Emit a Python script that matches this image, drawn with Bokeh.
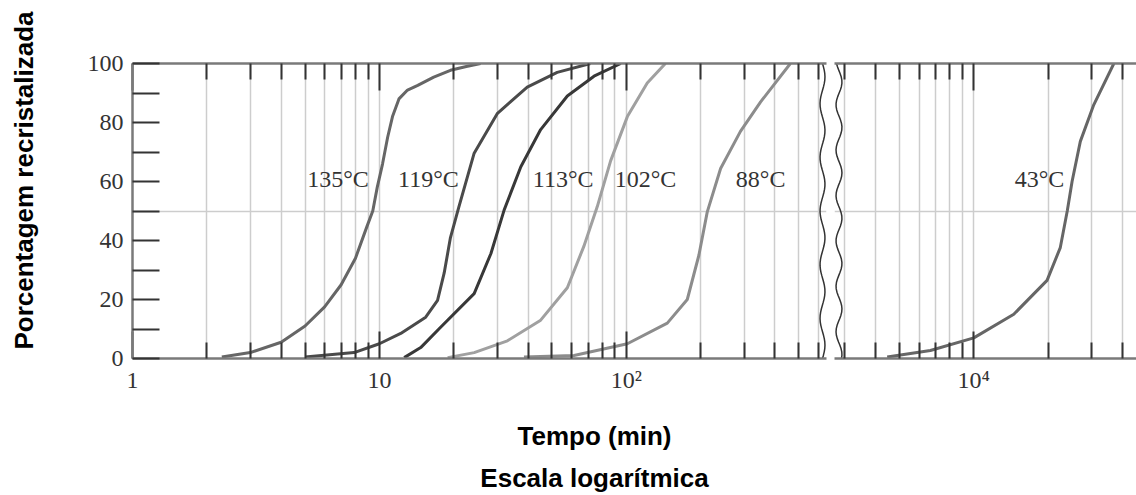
import numpy as np
from bokeh.plotting import figure
from bokeh.models import FixedTicker, LogAxis, ColumnDataSource, Range1d
from bokeh.layouts import row, column
from bokeh.core.properties import value
from bokeh.embed import file_html
from bokeh.resources import INLINE

# ---------------- data ----------------
t135 = [2.3, 3.0, 4.0, 5.0, 6.0, 7.0, 8.0, 8.9, 9.4, 9.8, 10.3, 10.8, 11.3, 12.0, 13.0,
        14.3, 16.6, 19.4, 22.5, 25.7]
p135 = [0.5, 2, 5.5, 11, 17.5, 25, 34, 44.7, 50, 58, 66, 75, 82, 88, 91,
        92.6, 95.4, 97.7, 99, 100]

t119 = [5.0, 7.9, 10.0, 12.2, 15.4, 17.2, 18.3, 19.4, 21.0, 24.2, 30.0, 39.7, 52.5, 71.6]
p119 = [0.5, 2, 5, 8.5, 14, 19.7, 29, 41, 51.5, 69.6, 83, 92, 97, 100]

t113 = [12.6, 14.7, 17.7, 24.2, 28.3, 32.0, 37.4, 45.0, 57.7, 74.0, 95.0]
p113 = [0.3, 3.7, 10.6, 22, 35.6, 50.3, 65, 77.6, 89, 95.7, 100]

t102 = [18.9, 24.2, 33.0, 45.0, 57.7, 67.3, 76.3, 86.4, 101, 121.6, 144]
p102 = [0.3, 2, 6, 13, 24, 38, 51.5, 67, 82, 93.4, 100]

t88 = [38.5, 61.4, 101, 146.6, 176.6, 196.8, 212.8, 241, 290, 350, 462]
p88 = [0.5, 1, 5, 12, 20, 35, 49.7, 64.4, 77, 87, 100]

t43 = [4460, 6670, 10000, 14520, 19800, 22400, 23900, 25000, 27000, 30600, 36900]
p43 = [0.5, 2.7, 7, 15, 26.5, 37.6, 50, 60, 73.6, 86, 100]

curve_labels_left = ["135°C", "119°C", "113°C", "102°C", "88°C"]
curve_label_x_left = [6.8, 15.8, 55.5, 119.7, 350]
curve_labels_right = ["43°C"]
curve_label_x_right = [18450]
curve_label_y = 61

left_major = [1, 10, 100]
left_minor = [2, 3, 4, 5, 6, 7, 8, 9, 20, 30, 40, 50, 60, 70, 80, 90, 200, 300, 400, 500, 600]
right_major = [10000]
right_minor = [3000, 4000, 5000, 6000, 7000, 8000, 9000, 20000, 30000, 40000]
y_ticks = [0, 10, 20, 30, 40, 50, 60, 70, 80, 90, 100]
x_tick_labels = {1: "1", 10: "10", 100: "10²", 10000: "10⁴"}

y_title = "Porcentagem recristalizada"
x_titles = ["Tempo (min)", "Escala logarítmica"]

# ---------------- styles ----------------
SERIF = "Liberation Serif"
SANS = "Liberation Sans"
TXT = "#333333"
FRAME = "#7a7a7a"
TICK = "#333333"
GRID = "#cdcdcd"

TOTAL_W, TOTAL_H = 1136, 495
YT_W = 45              # width of the y-title strip
PLOT_H = 405           # height of the two panels
XT_H = TOTAL_H - PLOT_H
W1 = 830 - YT_W
W2 = TOTAL_W - 830


def style_axis(ax, major, minor, labels):
    ax.ticker = FixedTicker(ticks=major, minor_ticks=minor)
    ax.major_tick_in = 27
    ax.major_tick_out = 0
    ax.minor_tick_in = 16
    ax.minor_tick_out = 0
    ax.major_tick_line_color = TICK
    ax.major_tick_line_width = 2
    ax.minor_tick_line_color = TICK
    ax.minor_tick_line_width = 2
    ax.axis_line_color = FRAME
    ax.axis_line_width = 2.5
    ax.major_label_overrides = labels
    ax.major_label_text_font = SERIF
    ax.major_label_text_font_size = "24px"
    ax.major_label_text_color = TXT
    ax.major_label_standoff = 8


def make_fig(width, xr, border_left, border_right, y_axis):
    p = figure(width=width, height=PLOT_H, x_axis_type="log",
               x_range=Range1d(*xr), y_range=Range1d(0, 100),
               output_backend="svg", toolbar_location=None,
               y_axis_location="left" if y_axis else None,
               min_border_left=border_left, min_border_right=border_right,
               min_border_top=63, min_border_bottom=PLOT_H - 358)
    p.outline_line_color = None
    p.background_fill_color = "white"
    p.border_fill_color = "white"
    return p


def blank_fig(width, height):
    p = figure(width=width, height=height, x_range=Range1d(0, width),
               y_range=Range1d(0, height), output_backend="svg",
               toolbar_location=None, x_axis_location=None, y_axis_location=None,
               min_border=0)
    p.outline_line_color = None
    p.grid.visible = False
    p.border_fill_color = "white"
    return p


# ---------------- left panel ----------------
p1 = make_fig(W1, (1, 647), 132 - YT_W, 4, True)
style_axis(p1.xaxis[0], left_major, left_minor,
           {k: v for k, v in x_tick_labels.items() if k in left_major})
top1 = LogAxis()
style_axis(top1, left_major, left_minor, {k: "" for k in left_major})
p1.add_layout(top1, "above")

p1.xgrid.ticker = FixedTicker(ticks=left_major[1:] + left_minor)
p1.xgrid.grid_line_color = GRID
p1.xgrid.grid_line_width = 1.5
p1.ygrid.ticker = FixedTicker(ticks=[50])
p1.ygrid.grid_line_color = GRID
p1.ygrid.grid_line_width = 1.5

ya = p1.yaxis[0]
ya.ticker = FixedTicker(ticks=y_ticks)
ya.major_tick_in = 27
ya.major_tick_out = 0
ya.minor_tick_line_color = None
ya.major_tick_line_color = TICK
ya.major_tick_line_width = 2
ya.axis_line_color = FRAME
ya.axis_line_width = 2.5
ya.major_label_overrides = {k: ("" if k % 20 else str(k)) for k in y_ticks}
ya.major_label_text_font = SERIF
ya.major_label_text_font_size = "24px"
ya.major_label_text_color = TXT
ya.major_label_standoff = 9

for t, pc, col in [(t135, p135, "#666666"), (t119, p119, "#4a4a4a"),
                   (t113, p113, "#383838"), (t102, p102, "#a0a0a0"),
                   (t88, p88, "#8c8c8c")]:
    p1.line(t, pc, line_color=col, line_width=3, line_join="round")

p1.text(x="x", y="y", text="text",
        source=ColumnDataSource(dict(x=curve_label_x_left,
                                     y=[curve_label_y] * len(curve_labels_left),
                                     text=curve_labels_left)),
        text_font=value(SERIF), text_font_size=value("24px"), text_color=TXT,
        text_align="center", text_baseline="middle")

# axis-break mark (decoration)
wy = np.linspace(0, 100, 90)
p1.line(10 ** (2.7947 + 0.010 * np.sin(wy / 100 * 2 * np.pi * 5.5)), wy,
        line_color="#333333", line_width=1.5)

# ---------------- right panel ----------------
p2 = make_fig(W2, (2729, 45580), 4, 0, False)
style_axis(p2.xaxis[0], right_major, right_minor,
           {k: v for k, v in x_tick_labels.items() if k in right_major})
top2 = LogAxis()
style_axis(top2, right_major, right_minor, {k: "" for k in right_major})
p2.add_layout(top2, "above")

p2.xgrid.ticker = FixedTicker(ticks=right_major + right_minor)
p2.xgrid.grid_line_color = GRID
p2.xgrid.grid_line_width = 1.5
p2.ygrid.ticker = FixedTicker(ticks=[50])
p2.ygrid.grid_line_color = GRID
p2.ygrid.grid_line_width = 1.5

p2.line(t43, p43, line_color="#666666", line_width=3, line_join="round")
p2.text(x="x", y="y", text="text",
        source=ColumnDataSource(dict(x=curve_label_x_right, y=[curve_label_y],
                                     text=curve_labels_right)),
        text_font=value(SERIF), text_font_size=value("24px"), text_color=TXT,
        text_align="center", text_baseline="middle")
p2.line(10 ** (3.4542 + 0.012 * np.sin(wy / 100 * 2 * np.pi * 6.5 + 1.0)), wy,
        line_color="#333333", line_width=1.5)

# ---------------- titles ----------------
pyt = blank_fig(YT_W, TOTAL_H)
pyt.text(x=[23], y=[TOTAL_H - 180], text=[y_title], angle=np.pi / 2,
         text_font=value(SANS), text_font_style="bold", text_font_size=value("26px"),
         text_color="black", text_align="center", text_baseline="middle")

XT_W = TOTAL_W - YT_W
pxt = blank_fig(XT_W, XT_H)
pxt.text(x=[594 - YT_W, 594 - YT_W], y=[60, 18], text=x_titles,
         text_font=value(SANS), text_font_style="bold", text_font_size=value("26px"),
         text_color="black", text_align="center", text_baseline="alphabetic")

layout = row(pyt, column(row(p1, p2, spacing=0), pxt, spacing=0), spacing=0)
open("out.html", "w").write(file_html(layout, INLINE))
